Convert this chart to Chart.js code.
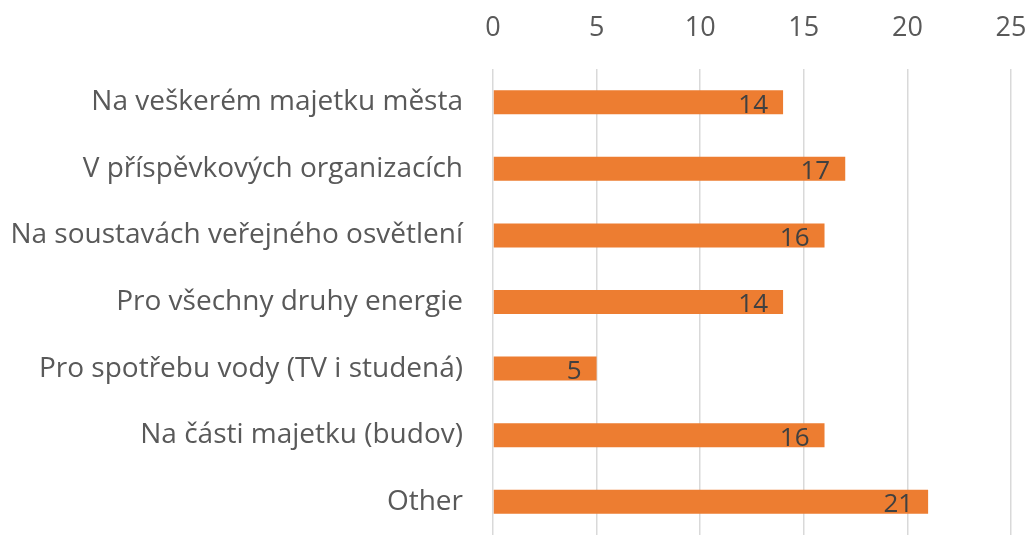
<!DOCTYPE html>
<html>
<head>
<meta charset="utf-8">
<script src="https://cdn.jsdelivr.net/npm/chart.js@4"></script>
<style>
  html, body { margin: 0; padding: 0; background: #fff; }
  #wrap { width: 1029px; height: 535px; }
</style>
</head>
<body>
<div id="wrap"><canvas id="c" width="1029" height="535"></canvas></div>
<script>
// Data
const categories = [
  'Na veškerém majetku města',
  'V příspěvkových organizacích',
  'Na soustavách veřejného osvětlení',
  'Pro všechny druhy energie',
  'Pro spotřebu vody (TV i studená)',
  'Na části majetku (budov)',
  'Other'
];
const values = [14, 17, 16, 14, 5, 16, 21];
const axisMax = 25;
const axisStep = 5;

const FONT = "'Open Sans', 'DejaVu Sans', sans-serif";

/**
 * Popisky hodnot uvnitř konce sloupce
 */
const valueLabels = {
  id: 'valueLabels',
  afterDatasetsDraw(chart) {
    const ctx = chart.ctx;
    const meta = chart.getDatasetMeta(0);
    ctx.save();
    ctx.font = '26px ' + FONT;
    ctx.fillStyle = '#404040';
    ctx.textAlign = 'right';
    ctx.textBaseline = 'middle';
    meta.data.forEach((bar, i) => {
      ctx.fillText(String(values[i]), bar.x - 15, bar.y + 3);
    });
    ctx.restore();
  }
};

new Chart(document.getElementById('c'), {
  type: 'bar',
  data: {
    labels: categories,
    datasets: [{
      data: values,
      backgroundColor: '#ED7D31',
      borderWidth: 0,
      barPercentage: 0.36,
      categoryPercentage: 1
    }]
  },
  options: {
    indexAxis: 'y',
    responsive: false,
    animation: false,
    layout: { autoPadding: false, padding: { top: 0, right: 18, bottom: -3, left: 0 } },
    plugins: {
      legend: { display: false },
      tooltip: { enabled: false }
    },
    scales: {
      x: {
        position: 'top',
        min: 0,
        max: axisMax,
        ticks: {
          stepSize: axisStep,
          color: '#595959',
          font: { family: FONT, size: 27 },
          padding: 24
        },
        grid: { color: '#d9d9d9', lineWidth: 1.5, drawTicks: false },
        border: { display: false },
        afterFit(scale) {
          scale.height = 69;
          scale.paddingLeft = 0;
          scale.paddingRight = 0;
        }
      },
      y: {
        ticks: {
          color: '#595959',
          font: { family: FONT, size: 28 },
          padding: 30
        },
        grid: { display: false, drawTicks: false },
        border: { display: false },
        afterFit(scale) {
          scale.width = 493;
          scale.paddingTop = 0;
          scale.paddingBottom = 0;
        }
      }
    }
  },
  plugins: [valueLabels]
});
</script>
</body>
</html>
